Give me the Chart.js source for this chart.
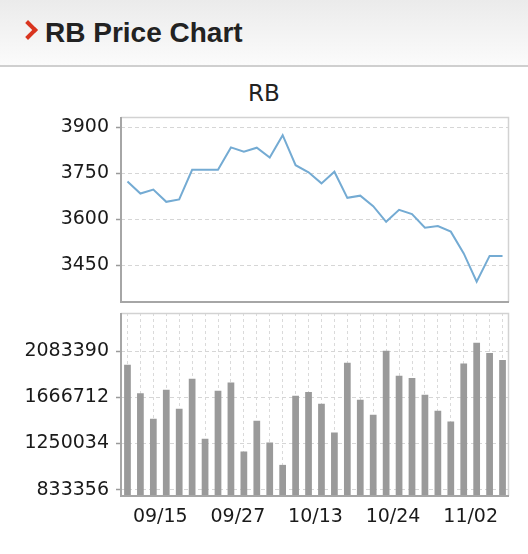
<!DOCTYPE html>
<html><head><meta charset="utf-8">
<script src="https://cdn.jsdelivr.net/npm/chart.js@4.4.1/dist/chart.umd.min.js"></script>
<style>
html,body{margin:0;padding:0;width:528px;height:554px;overflow:hidden;background:#fff;}
#hdr{position:absolute;left:0;top:0;width:528px;height:65px;background:linear-gradient(#ebebeb,#fbfbfb);border-bottom:2px solid #cfcfcf;}
#hdr .t{position:absolute;left:45px;top:17px;line-height:28px;font:bold 28px "Liberation Sans",Arial,sans-serif;color:#222;white-space:nowrap;}
#chev{position:absolute;left:21px;top:23px;width:14px;height:14px;box-sizing:border-box;border-top:4px solid #d9351f;border-right:4px solid #d9351f;transform:rotate(45deg);}
#ttl{position:absolute;left:0;width:528px;top:80px;line-height:23px;text-align:center;font:23px "DejaVu Sans",sans-serif;color:#222;}
canvas{position:absolute;left:0;}
</style></head>
<body>
<div id="hdr"><div id="chev"></div><div class="t">RB Price Chart</div></div>
<div id="ttl">RB</div>
<canvas id="c1" width="528" height="210" style="top:100px;width:528px;height:210px"></canvas>
<canvas id="c2" width="528" height="249" style="top:305px;width:528px;height:249px"></canvas>
<script>
const price = [3723, 3684, 3697, 3657, 3665, 3761, 3761, 3761, 3834, 3820, 3833, 3801, 3874, 3776, 3753, 3717, 3755, 3670, 3677, 3643, 3592, 3631, 3617, 3573, 3578, 3560, 3489, 3397, 3481, 3481];
const volume = [1963000, 1706000, 1474000, 1736000, 1564000, 1836000, 1293000, 1727000, 1803000, 1178000, 1456000, 1259000, 1057000, 1682000, 1716000, 1610000, 1350000, 1981000, 1646000, 1510000, 2090000, 1863000, 1842000, 1691000, 1546000, 1449000, 1975000, 2162000, 2069000, 2005000];
const tickLabels = ['09/15', '09/27', '10/13', '10/24', '11/02'];
const tickIndex = [3, 9, 15, 21, 27];
const priceTicks = [3450, 3600, 3750, 3900];
const volumeTicks = [833356, 1250034, 1666712, 2083390];
const priceRange = [3331, 3933];
const volumeRange = [775400, 2431230];

const categories = price.map((_, i) => {
  const k = tickIndex.indexOf(i);
  return k >= 0 ? tickLabels[k] : '';
});

const FONT = {family: 'DejaVu Sans', size: 19};
const frame = {
  id: 'frame',
  afterDatasetsDraw(chart) {
    const a = chart.chartArea, ctx = chart.ctx;
    ctx.save();
    ctx.lineWidth = 1.5; ctx.strokeStyle = '#d2d2d2';
    ctx.beginPath();
    ctx.moveTo(a.left, a.top + 0.5); ctx.lineTo(a.right - 0.5, a.top + 0.5); ctx.lineTo(a.right - 0.5, a.bottom);
    ctx.stroke();
    ctx.lineWidth = 2; ctx.strokeStyle = '#a6a6a6';
    ctx.beginPath();
    ctx.moveTo(a.left, a.top); ctx.lineTo(a.left, a.bottom); ctx.lineTo(a.right, a.bottom);
    ctx.stroke();
    ctx.restore();
  }
};
function yAxis(ticks, range) {
  return {
    min: range[0], max: range[1],
    afterBuildTicks: s => { s.ticks = ticks.map(v => ({value: v})); },
    afterFit: s => { s.width = 121; s.paddingTop = 0; s.paddingBottom = 0; },
    ticks: {color: '#1a1a1a', font: FONT, padding: 7, callback: v => String(v)},
    grid: {color: '#d6d6d6', lineWidth: 1, tickColor: '#9a9a9a', tickLength: 5, tickBorderDash: [], tickWidth: 1.5},
    border: {display: false, dash: [4, 3]}
  };
}
new Chart(document.getElementById('c1'), {
  type: 'line',
  data: {labels: categories, datasets: [{data: price, borderColor: '#74abd3', borderWidth: 2, pointRadius: 0, tension: 0, fill: false}]},
  options: {
    responsive: false, animation: false,
    layout: {padding: {top: 17, right: 19, bottom: 8, left: 0}},
    plugins: {legend: {display: false}, tooltip: {enabled: false}},
    scales: {
      x: {display: false, offset: true},
      y: yAxis(priceTicks, priceRange)
    }
  },
  plugins: [frame]
});
new Chart(document.getElementById('c2'), {
  type: 'bar',
  data: {labels: categories, datasets: [{data: volume, backgroundColor: '#9a9a9a', barPercentage: 0.52, categoryPercentage: 1}]},
  options: {
    responsive: false, animation: false,
    layout: {padding: {top: 8, right: 19, bottom: 0, left: 0}},
    plugins: {legend: {display: false}, tooltip: {enabled: false}},
    scales: {
      x: {
        offset: true,
        afterFit: s => { s.height = 58; s.paddingLeft = 0; s.paddingRight = 0; },
        ticks: {color: '#1a1a1a', font: FONT, autoSkip: false, maxRotation: 0, minRotation: 0, padding: 10, labelOffset: -6},
        grid: {offset: false, drawTicks: false, color: '#dadada', lineWidth: 1},
        border: {display: false, dash: [3, 3]}
      },
      y: yAxis(volumeTicks, volumeRange)
    }
  },
  plugins: [frame]
});
</script>
</body></html>
